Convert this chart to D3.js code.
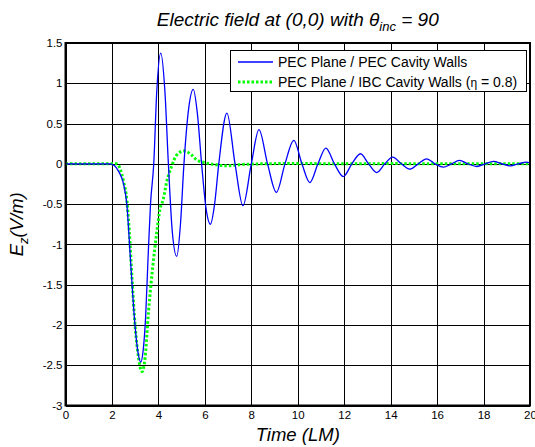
<!DOCTYPE html>
<html>
<head>
<meta charset="utf-8">
<script src="https://cdn.jsdelivr.net/npm/d3@7"></script>
<style>
  body { margin: 0; background: #fff; }
  text { font-family: "Liberation Sans", Arial, sans-serif; }
</style>
</head>
<body>
<div id="chart"></div>
<script>
// Blue curve: PEC plane / PEC cavity walls
var tBlue = [0, 1.9, 2.1, 2.3, 2.5, 2.64, 2.8, 2.95, 3.1, 3.24, 3.35, 3.45, 3.55, 3.66, 3.8, 3.93, 4.1, 4.28, 4.43, 4.6, 4.79, 4.95, 5.1, 5.3, 5.5, 5.68, 5.86, 6.05, 6.24, 6.42, 6.6, 6.95, 7.3, 7.64, 8.0, 8.33, 8.7, 9.08, 9.45, 9.83, 10.18, 10.52, 10.87, 11.21, 11.58, 11.96, 12.33, 12.7, 13.05, 13.4, 13.75, 14.09, 14.46, 14.83, 15.19, 15.55, 15.91, 16.27, 16.62, 16.96, 17.33, 17.71, 18.07, 18.43, 18.8, 19.15, 19.5, 19.85, 20];
var eBlue = [0, 0, -0.02, -0.1, -0.25, -0.5, -1.2, -1.85, -2.3, -2.46, -2.3, -1.9, -1.2, -0.5, 0, 0.9, 1.375, 0.9, 0, -0.85, -1.15, -0.75, 0, 0.68, 0.925, 0.62, 0, -0.55, -0.75, -0.5, 0, 0.63, 0, -0.52, 0, 0.425, 0, -0.354, 0, 0.29, 0, -0.233, 0, 0.196, 0, -0.158, 0, 0.125, 0, -0.108, 0, 0.083, 0, -0.067, 0, 0.0625, 0, -0.042, 0, 0.042, 0, -0.033, 0, 0.03, 0, -0.025, 0, 0.02, 0.012];

// Green curve: PEC plane / IBC cavity walls (eta = 0.8)
var tGreen = [0, 2.2, 2.35, 2.5, 2.64, 2.75, 2.86, 3.0, 3.14, 3.3, 3.43, 3.57, 3.76, 3.93, 4.07, 4.2, 4.36, 4.57, 4.79, 5.1, 5.43, 5.64, 5.93, 6.5, 6.93, 7.5, 8.4, 10, 12, 14, 16, 18, 20];
var eGreen = [0, 0, -0.06, -0.22, -0.45, -0.85, -1.4, -2.02, -2.4, -2.58, -2.4, -1.85, -1.27, -0.85, -0.56, -0.45, -0.22, -0.03, 0.11, 0.16, 0.11, 0.05, 0.02, -0.012, -0.025, -0.01, 0, 0.004, 0, 0.003, 0, 0.002, 0];

var xTicks = [0, 2, 4, 6, 8, 10, 12, 14, 16, 18, 20];
var yTicks = [-3, -2.5, -2, -1.5, -1, -0.5, 0, 0.5, 1, 1.5];

var legendLabels = ["PEC Plane / PEC Cavity Walls", "PEC Plane / IBC Cavity Walls ("];

var W = 535, H = 447;
var pLeft = 65.5, pRight = 530, pTop = 43, pBottom = 405.5;

var svg = d3.select("#chart")
  .append("svg")
  .attr("width", W)
  .attr("height", H);

var x = d3.scaleLinear().domain([0, 20]).range([pLeft, pRight]);
var y = d3.scaleLinear().domain([-3, 1.5]).range([pBottom, pTop]);

// Grid + tick labels
var xAxis = svg.append("g")
  .attr("transform", "translate(0," + pBottom + ")")
  .call(d3.axisBottom(x).tickValues(xTicks).tickSizeInner(-(pBottom - pTop)).tickSizeOuter(0).tickPadding(5).tickFormat(d => String(d)));

var yAxis = svg.append("g")
  .attr("transform", "translate(" + pLeft + ",0)")
  .call(d3.axisLeft(y).tickValues(yTicks).tickSizeInner(-(pRight - pLeft)).tickSizeOuter(0).tickPadding(3).tickFormat(d => String(d)));

[xAxis, yAxis].forEach(function(a) {
  a.select(".domain").remove();
  a.selectAll(".tick line")
    .attr("stroke", "#000")
    .attr("stroke-width", 1)
    .attr("shape-rendering", "crispEdges");
  a.selectAll(".tick text")
    .attr("fill", "#000")
    .style("font-size", "11.5px")
    .style("font-family", "'Liberation Sans', Arial, sans-serif");
});

// Clip to plot area
svg.append("clipPath").attr("id", "clip")
  .append("rect")
  .attr("x", pLeft).attr("y", pTop)
  .attr("width", pRight - pLeft).attr("height", pBottom - pTop);

var line = d3.line()
  .x(d => x(d[0]))
  .y(d => y(d[1]))
  .curve(d3.curveMonotoneX);

var blueData = tBlue.map((t, i) => [t, eBlue[i]]);
var greenData = tGreen.map((t, i) => [t, eGreen[i]]);

var plot = svg.append("g").attr("clip-path", "url(#clip)");

plot.append("path")
  .datum(greenData)
  .attr("d", line)
  .attr("fill", "none")
  .attr("stroke", "#00ff00")
  .attr("stroke-width", 3)
  .attr("stroke-dasharray", "2.5,2");

plot.append("path")
  .datum(blueData)
  .attr("d", line)
  .attr("fill", "none")
  .attr("stroke", "#0000ff")
  .attr("stroke-width", 1.3);

// Axes box
svg.append("rect")
  .attr("x", pLeft).attr("y", pTop)
  .attr("width", pRight - pLeft).attr("height", pBottom - pTop)
  .attr("fill", "none")
  .attr("stroke", "#000")
  .attr("stroke-width", 2);

// Title
var title = svg.append("text")
  .attr("x", (pLeft + pRight) / 2)
  .attr("y", 26)
  .attr("text-anchor", "middle")
  .style("font-size", "19px")
  .style("font-style", "italic");
title.append("tspan").text("Electric field at (0,0) with \u03b8");
title.append("tspan").attr("dy", 5).style("font-size", "13px").text("inc");
title.append("tspan").attr("dy", -5).text(" = 90");

// X label
svg.append("text")
  .attr("x", (pLeft + pRight) / 2)
  .attr("y", 441)
  .attr("text-anchor", "middle")
  .style("font-size", "18.5px")
  .style("font-style", "italic")
  .text("Time (LM)");

// Y label
var ylab = svg.append("text")
  .attr("transform", "translate(23," + ((pTop + pBottom) / 2) + ") rotate(-90)")
  .attr("text-anchor", "middle")
  .style("font-size", "18.5px")
  .style("font-style", "italic");
ylab.append("tspan").text("E");
ylab.append("tspan").attr("dy", 5).style("font-size", "13px").text("z");
ylab.append("tspan").attr("dy", -5).text("(V/m)");

// Legend
var lg = svg.append("g");
lg.append("rect")
  .attr("x", 230).attr("y", 50)
  .attr("width", 296).attr("height", 41)
  .attr("fill", "#fff")
  .attr("stroke", "#000")
  .attr("stroke-width", 1)
  .attr("shape-rendering", "crispEdges");

lg.append("line")
  .attr("x1", 238).attr("x2", 273).attr("y1", 62).attr("y2", 62)
  .attr("stroke", "#0000ff").attr("stroke-width", 1.3);
lg.append("line")
  .attr("x1", 238).attr("x2", 273).attr("y1", 82).attr("y2", 82)
  .attr("stroke", "#00ff00").attr("stroke-width", 3)
  .attr("stroke-dasharray", "2.5,2");

lg.append("text")
  .attr("x", 278).attr("y", 67)
  .style("font-size", "14px")
  .text(legendLabels[0]);

var lt = lg.append("text")
  .attr("x", 278).attr("y", 87)
  .style("font-size", "14px");
lt.append("tspan").text(legendLabels[1]);
lt.append("tspan").style("font-size", "12px").text("\u03b7");
lt.append("tspan").text(" = 0.8)");
</script>
</body>
</html>
